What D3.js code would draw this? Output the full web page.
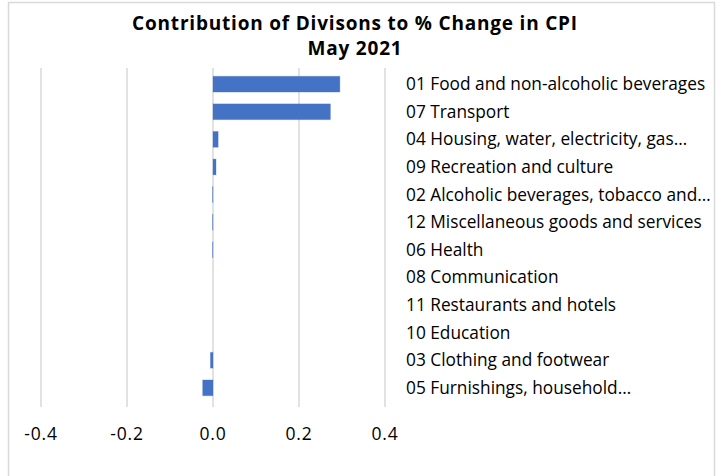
<!DOCTYPE html>
<html>
<head>
<meta charset="utf-8">
<script src="https://cdn.jsdelivr.net/npm/d3@7"></script>
<style>
  body { margin: 0; background: #fff; }
  svg text { font-family: "Open Sans", Lato, sans-serif; fill: #000; }
</style>
</head>
<body>
<div id="chart"></div>
<script>
var categories = [
  "01 Food and non-alcoholic beverages",
  "07 Transport",
  "04 Housing, water, electricity, gas…",
  "09 Recreation and culture",
  "02 Alcoholic beverages, tobacco and…",
  "12 Miscellaneous goods and services",
  "06 Health",
  "08 Communication",
  "11 Restaurants and hotels",
  "10 Education",
  "03 Clothing and footwear",
  "05 Furnishings, household…"
];
var values = [0.295, 0.273, 0.012, 0.007, -0.001, -0.001, -0.001, 0, 0, 0, -0.006, -0.024];
var ticks = [-0.4, -0.2, 0.0, 0.2, 0.4];

var W = 726, H = 476;
var svg = d3.select("#chart").append("svg").attr("width", W).attr("height", H);

// chart frame
svg.append("rect").attr("x", 8.5).attr("y", 2.5).attr("width", 706).attr("height", 490)
  .attr("fill", "#fff").attr("stroke", "#d9d9d9").attr("stroke-width", 1.5);

var x = d3.scaleLinear().domain([-0.4, 0.4]).range([41, 385]);
var y = d3.scaleBand().domain(categories).range([68, 404]).paddingInner(0.43).paddingOuter(0.3);

// grid
svg.selectAll("line.grid").data(ticks).enter().append("line")
  .attr("class", "grid")
  .attr("x1", function(d) { return x(d); }).attr("x2", function(d) { return x(d); })
  .attr("y1", 68).attr("y2", 407)
  .attr("stroke", "#d9d9d9").attr("stroke-width", 1.5);

// bars
svg.selectAll("rect.bar").data(values).enter().append("rect")
  .attr("class", "bar")
  .attr("x", function(d) { return x(Math.min(0, d)); })
  .attr("y", function(d, i) { return y(categories[i]); })
  .attr("width", function(d) { return Math.abs(x(d) - x(0)); })
  .attr("height", y.bandwidth())
  .attr("fill", "#4472c4")
  .attr("stroke", "#4472c4").attr("stroke-opacity", 0.3).attr("stroke-width", 1);

// category labels
svg.selectAll("text.cat").data(categories).enter().append("text")
  .attr("class", "cat")
  .attr("x", 406)
  .attr("y", function(d) { return y(d) + y.bandwidth() / 2; })
  .attr("dy", "0.35em")
  .style("font-size", "17.3px")
  .text(function(d) { return d; });

// x-axis tick labels (hyphen minus as in the original)
svg.selectAll("text.tick").data(ticks).enter().append("text")
  .attr("class", "tick")
  .attr("x", function(d) { return x(d); })
  .attr("y", 440)
  .attr("text-anchor", "middle")
  .style("font-size", "17.5px")
  .style("letter-spacing", "0.8px")
  .text(function(d) { return d3.format(".1f")(d).replace("\u2212", "-"); });

// title
var title = svg.append("text").attr("text-anchor", "middle")
  .style("font-size", "19px").style("font-weight", "bold").style("letter-spacing", "0.8px");
title.append("tspan").attr("x", 355).attr("y", 30).text("Contribution of Divisons to % Change in CPI");
title.append("tspan").attr("x", 355).attr("y", 55).text("May 2021");
</script>
</body>
</html>
